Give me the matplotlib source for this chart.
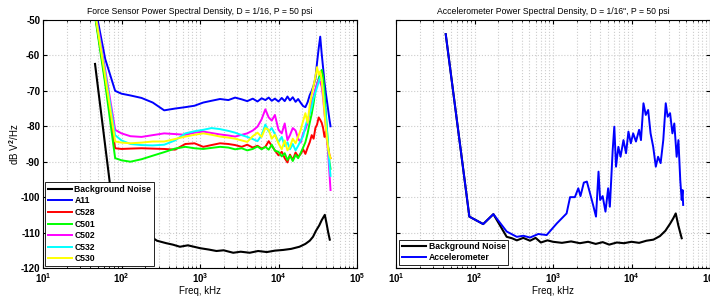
import numpy as np
import matplotlib
matplotlib.use('Agg')
import matplotlib.pyplot as plt

plt.rcParams['font.family'] = ['Liberation Sans', 'DejaVu Sans']
plt.rcParams['font.weight'] = 'bold'
plt.rcParams['axes.unicode_minus'] = False
plt.rcParams['mathtext.fontset'] = 'custom'
plt.rcParams['mathtext.rm'] = 'Liberation Sans:bold'
plt.rcParams['mathtext.it'] = 'Liberation Sans:bold'
plt.rcParams['mathtext.bf'] = 'Liberation Sans:bold'

# ---- Force sensor panel data (freq in kHz axis units, dB V^2/Hz) ----
f_force = [45, 62, 83, 100, 130, 180, 250, 350, 480, 650, 850, 1100, 1400, 1800,
           2300, 2800, 3400, 4000, 4700, 5400, 6100, 6800, 7500, 8200, 9000,
           10000, 11000, 12000, 13000, 14000, 15200, 16500, 17800, 19200, 20600,
           22000, 23500, 25000, 26500, 28000, 29500, 31000, 32500, 34000, 35500,
           37000, 38500, 40000, 41500, 43000, 44500, 46000]

a11 = [-45, -61, -70, -70.8, -71.3, -72, -73.3, -75.5, -75, -74.6, -74.2, -73.3,
       -72.8, -72.3, -72.6, -71.9, -72.4, -72.9, -72.2, -73, -72.1, -72.6, -71.9,
       -72.8, -72.2, -73, -72, -72.9, -71.6, -72.7, -71.8, -73.1, -72.3, -73.4,
       -74.3, -74.6, -73.2, -71.2, -70, -68.5, -66.5, -62, -58, -54.7, -59.5,
       -63.5, -67.5, -70.5, -73, -75.5, -78, -80]
c528 = [-47, -67, -86.2, -86.4, -86.3, -86.2, -86.3, -86.4, -86.6, -85, -84.8,
        -85.8, -85.3, -84.8, -85, -85.3, -85.8, -85.2, -86, -85.5, -86.3, -85.8,
        -84.2, -85.5, -86.8, -88.2, -87.2, -89, -90.2, -88, -89.5, -87.4, -88.6,
        -87.8, -86.5, -87.8, -86, -84.5, -82.5, -83.5, -80.5, -79.5, -77.5, -78.2,
        -79, -80.5, -83, -81.5, -84, -86, -88, -89]
c501 = [-47.5, -68, -89, -89.6, -90, -89.3, -88.3, -87.3, -86.3, -85.8, -86.2,
        -86.4, -86.1, -85.8, -86, -86.5, -86.2, -86.8, -86.4, -85.7, -86.5, -85.8,
        -86.6, -85.2, -86.9, -87.2, -88.5, -87.6, -89.5, -88.3, -89.8, -88.1, -89,
        -87.5, -86, -84.5, -82, -79, -76.5, -73.5, -70, -68, -66.5, -65, -64.1,
        -66, -70.5, -76, -81, -86.5, -90, -92]
c502 = [-46, -64, -81, -82, -82.8, -83, -82.5, -82, -82.2, -82.4, -81.8, -81.5,
        -81.9, -82.3, -82.6, -82.9, -82.4, -82, -81.2, -80.1, -78, -75.2, -77.5,
        -78.4, -76.8, -81, -82, -79.2, -83.9, -82.5, -80.5, -81.2, -83.5, -84.6,
        -82, -80.9, -79, -76, -72.8, -71.5, -69.5, -68, -66.9, -67.5, -68.8, -72,
        -76.3, -80, -83.5, -88, -93, -98]
c532 = [-46.5, -65, -82.5, -84, -85, -85.3, -85.4, -85.2, -84, -82, -81.4, -81,
        -80.5, -80.8, -81.3, -81.8, -82.5, -83, -83.6, -84.2, -82.5, -79.5, -81.5,
        -80.5, -82.2, -84.5, -83, -85.6, -84.5, -86.5, -85, -86.8, -85.5, -84,
        -82.8, -80, -78, -76.5, -74.5, -72, -70.5, -69, -67.5, -66.2, -67, -69.5,
        -73.5, -77, -81.5, -86, -90.5, -94]
c530 = [-46.5, -66, -84.3, -84.6, -84.8, -84.6, -84.3, -84.3, -83.6, -82.9, -82.4,
        -82, -82.4, -82.9, -83.2, -83.5, -84, -84.4, -82.8, -81.8, -83, -80.5, -81,
        -83.5, -82.4, -84.8, -86.5, -84, -86.8, -85.8, -83.5, -84.8, -82.9, -81,
        -78.5, -76.3, -79, -74, -71, -68.5, -66, -63.3, -65.5, -64.5, -67, -71,
        -76, -80, -83.5, -86.5, -88, -89]

f_bg_force = [46, 71, 85, 125, 170, 250, 283, 372, 450, 555, 700, 1000, 1300, 1620,
              2000, 2650, 3300, 4300, 5500, 7100, 9000, 11500, 14500, 18500, 22000,
              25000, 27500, 30000, 33000, 35500, 38900, 41000, 43000, 45000]
bg_force = [-62.4, -96, -105, -107.5, -105, -111.5, -112.3, -113, -113.4, -114,
            -113.6, -114.4, -114.8, -115.2, -115, -115.7, -115.4, -115.7, -115.2,
            -115.5, -115.1, -114.9, -114.6, -114, -113.2, -112.3, -111.2, -109.5,
            -108, -106.5, -105, -107.5, -110, -112]

# ---- Accelerometer panel data ----
f_acc = [43, 86, 129, 174, 257, 346, 418, 510, 650, 830, 1120, 1490, 1650, 1900,
         2100, 2240, 2470, 2700, 2960, 3240, 3530, 3800, 3990, 4290, 4660, 5040,
         5300, 5760, 6040, 6350, 6800, 7250, 7900, 8520, 9140, 9800, 10500, 11400,
         12500, 13200, 14200, 15200, 16300, 17500, 18900, 20400, 21800, 23500,
         25400, 27300, 28900, 31000, 33200, 35100, 37600, 39600, 41800, 43600,
         44700, 45500]
acc = [-54, -105.5, -107.6, -104.8, -109.7, -111.2, -110.9, -111.4, -110.4, -110.7,
       -107.4, -104.6, -100, -100, -97.5, -99.7, -95.9, -95.6, -98.9, -102.2,
       -105.5, -92.8, -100.8, -99.7, -104.1, -97.5, -102.7, -86.7, -80.1, -91.4,
       -85.8, -88.6, -83.9, -87.6, -81.5, -84.8, -82, -84.3, -81, -83.9, -73.5,
       -76.8, -75.4, -82, -85.8, -91.4, -88.6, -90.4, -83.9, -73.5, -77.3, -76.3,
       -82, -79.2, -88.6, -83.9, -95.2, -100.8, -98, -102.2]

f_bg_acc = [43, 86, 129, 174, 257, 300, 346, 418, 510, 600, 700, 850, 1000, 1300,
            1700, 2200, 2800, 3500, 4300, 5200, 6500, 8000, 10000, 12500, 15500,
            19000, 23000, 27000, 31000, 34000, 36600, 39500, 43600]
bg_acc = [-54, -105.5, -107.6, -104.8, -111.2, -111.6, -112.2, -111.5, -112.3,
          -111.5, -112.8, -112.2, -112.6, -112.9, -112.5, -113, -112.6, -113.2,
          -112.7, -113.4, -112.8, -113, -112.6, -112.9, -112.3, -112, -111, -109.5,
          -107.5, -106, -104.6, -108, -111.6]

sensors = ['A11', 'C528', 'C501', 'C502', 'C532', 'C530']
sensor_data = [a11, c528, c501, c502, c532, c530]
sensor_colors = [(0, 0, 1), (1, 0, 0), (0, 1, 0), (1, 0, 1), (0, 1, 1), (1, 1, 0)]

W, H = 710, 299
fig = plt.figure(figsize=(W / 100, H / 100), dpi=100)
ax1 = fig.add_axes([43 / W, 31 / H, 314 / W, 248 / H])
ax2 = fig.add_axes([396 / W, 31 / H, 314 / W, 248 / H])


def style(ax):
    ax.set_xscale('log')
    ax.set_xlim(10, 1e5)
    ax.set_ylim(-120, -50)
    ax.set_yticks(np.arange(-120, -49, 10))
    ax.grid(True, which='major', color='#cccccc', linestyle=':', linewidth=0.8)
    ax.grid(True, which='minor', axis='x', color='#cccccc', linestyle=':',
            linewidth=0.8)
    ax.tick_params(which='both', direction='in', top=True, right=True,
                   labelsize=7, pad=2)
    ax.tick_params(which='major', length=3)
    ax.tick_params(which='minor', length=1.5)
    ax.set_xlabel('Freq, kHz', fontsize=7, labelpad=1)
    for s in ax.spines.values():
        s.set_linewidth(0.8)


# left panel
ax1.plot(f_bg_force, bg_force, color='k', lw=1.5, label='Background Noise')
for name, vals, col in zip(sensors, sensor_data, sensor_colors):
    ax1.plot(f_force, vals, color=col, lw=1.4, label=name)
style(ax1)
ax1.set_title('Force Sensor Power Spectral Density, D = 1/16, P = 50 psi',
              fontsize=6.2, pad=4)
ax1.set_ylabel('dB V$^2$/Hz', fontsize=7, labelpad=0)
leg1 = ax1.legend(loc='lower left', fontsize=6.2, handlelength=2.8,
                  handletextpad=0.3, labelspacing=0.3, borderaxespad=0.25,
                  borderpad=0.3, fancybox=False, framealpha=1, edgecolor='k')
leg1.get_frame().set_linewidth(0.6)

# right panel
ax2.plot(f_bg_acc, bg_acc, color='k', lw=1.5, label='Background Noise')
ax2.plot(f_acc, acc, color=(0, 0, 1), lw=1.4, label='Accelerometer')
style(ax2)
ax2.set_yticklabels([])
ax2.set_title('Accelerometer Power Spectral Density, D = 1/16", P = 50 psi',
              fontsize=6.2, pad=4)
leg2 = ax2.legend(loc='lower left', fontsize=6.2, handlelength=2.8,
                  handletextpad=0.3, labelspacing=0.2, borderaxespad=0.4,
                  borderpad=0.3, fancybox=False, framealpha=1, edgecolor='k')
leg2.get_frame().set_linewidth(0.6)

fig.savefig('out.png', dpi=100)
